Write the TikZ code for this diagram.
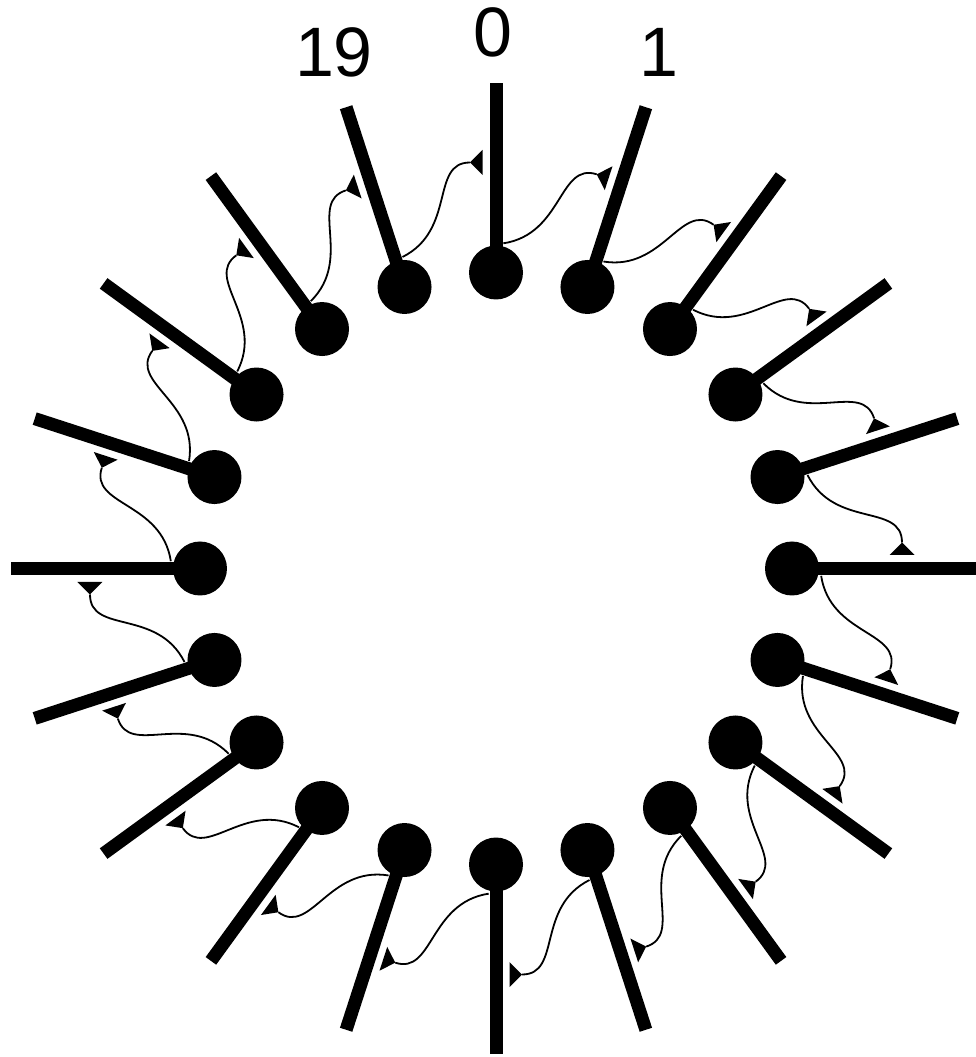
\documentclass[tikz,border=0pt]{standalone}
\usepackage{fontspec}
\setmainfont{Liberation Sans}
\begin{document}
\begin{tikzpicture}[x=1pt,y=1pt,
  stickline/.style={line width=13pt, line cap=butt},
  ballfill/.style={fill=black},
  wire/.style={line width=1.8pt},
  tipfill/.style={fill=black},
  lbl/.style={font=\fontsize{70}{84}\selectfont, anchor=base, inner sep=0pt}]
\useasboundingbox (-496,-488.5) rectangle (480,568.5);
\clip (-496,-488.5) rectangle (480,568.5);
\foreach \k in {0,...,19}{
  \pgfmathsetmacro\a{90-18*\k}
  \coordinate (ball\k) at (\a:296);
  \coordinate (end\k) at (\a:485);
  \draw[stickline] (ball\k) -- (end\k);
  \fill[ballfill] (ball\k) circle (27);
}
\foreach \k in {0,...,19}{
  \begin{scope}[rotate=-18*\k]
    \coordinate (w\k) at (-93.5,311.5);
    \coordinate (t\k) at (-26,406);
    \draw[wire] (w\k) .. controls (-39.5,338.7) and (-66,406) .. (t\k);
    \fill[tipfill] (t\k) -- (-13.5,418.5) -- (-13.5,393.5) -- cycle;
  \end{scope}
}
\node[lbl] (n0) at (-3.5,511.5) {0};
\node[lbl] (n19) at (-162,491.5) {19};
\node[lbl] (n1) at (163,491.5) {1};
\end{tikzpicture}
\end{document}
